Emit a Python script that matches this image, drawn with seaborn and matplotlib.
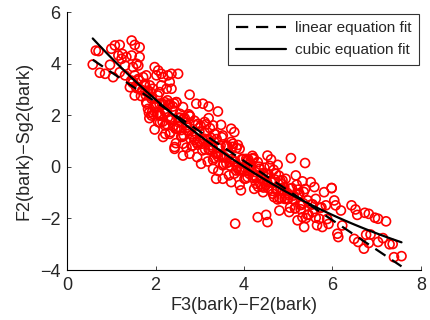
import numpy as np
import pandas as pd
import seaborn as sns
import matplotlib.pyplot as plt

# F3-F2 (bark) vs F2-Sg2 (bark)
f3_f2 = [
    0.65, 0.71, 0.58, 0.74, 0.86, 0.97, 1.04, 1.00, 1.08, 1.19, 1.16, 1.25, 1.23, 1.34, 1.31,
    1.19, 1.31, 1.46, 1.53, 1.64, 1.46, 1.64, 1.57, 1.49, 1.61, 1.53, 1.49, 1.61, 1.42, 1.53,
    1.64, 1.72, 1.79, 1.76, 1.87, 1.83, 1.94, 1.98, 2.06, 2.13, 2.02, 2.17, 2.28, 2.36, 2.32,
    2.13, 2.25, 2.09, 2.51, 1.79, 1.91, 1.83, 1.98, 2.09, 2.21, 2.32, 2.47, 1.91, 2.09, 2.25,
    2.39, 2.06, 2.21, 2.36, 2.51, 2.17, 2.32, 2.43,
    2.77, 2.92, 3.07, 3.20, 3.41, 3.20, 2.62, 2.47, 2.36, 2.55, 2.77, 2.96, 3.11, 3.30, 3.48,
    3.33, 3.52, 3.71, 3.78, 2.73, 2.92, 3.11, 2.62, 2.84, 2.43, 2.62, 2.77, 3.03, 3.22, 3.41,
    3.60, 3.75, 3.90, 4.05, 4.20, 3.30, 3.37, 3.52, 3.71, 3.82, 3.93, 4.01, 4.12, 4.23, 3.52,
    3.67, 3.80,
    4.20, 4.53, 4.61, 4.76, 5.06, 5.38, 5.17, 5.32, 5.51, 5.59, 5.81, 5.98, 4.35, 4.50, 4.72,
    4.87, 4.27, 4.43, 4.65, 4.84, 5.02, 5.25, 5.44, 5.62, 5.85, 4.80, 5.02, 4.31, 4.50, 4.53,
    5.21, 5.32, 5.36, 5.55, 5.70, 5.77, 5.91,
    5.98, 6.04, 6.07, 6.19, 6.43, 6.52, 6.56, 6.73, 6.82, 6.96, 7.03, 7.21, 6.22, 6.11, 6.13,
    6.49, 6.58, 6.71, 6.76, 6.86, 6.82, 7.03, 7.14, 7.29, 7.36, 7.39, 7.56,
    1.45, 1.55, 1.62, 1.70, 1.78, 1.85, 1.92, 2.00, 2.05, 2.12, 2.18, 2.24, 2.30, 2.35, 2.42,
    2.48, 2.55, 2.60, 2.66, 2.72, 2.78, 2.85, 2.90, 2.96, 3.02, 3.08, 3.14, 3.20, 3.25, 3.32,
    3.38, 3.44, 3.50, 3.56, 3.62, 3.68, 3.74, 3.80, 3.86, 3.92, 3.98, 4.04, 4.10, 4.16, 4.22,
    4.28, 4.34, 4.40, 4.46, 4.52, 4.58, 4.64, 4.70, 4.76, 4.82, 4.88, 4.94, 5.00, 5.08, 5.15,
    5.22, 5.30, 5.38, 5.46, 5.55, 5.65, 5.75, 5.88,
    1.48, 1.58, 1.67, 1.74, 1.82, 1.88, 1.95, 2.03, 2.09, 2.15, 2.21, 2.27, 2.33, 2.39, 2.45,
    2.52, 2.58, 2.63, 2.69, 2.75, 2.82, 2.88, 2.93, 2.99, 3.05, 3.11, 3.17, 3.23, 3.29, 3.35,
    3.41, 3.47, 3.53, 3.59, 3.65, 3.71, 3.77, 3.83, 3.89, 3.95, 4.01, 4.07, 4.13, 4.19, 4.25,
    4.31, 4.37, 4.43, 4.49, 4.55, 4.61, 4.67, 4.73, 4.79, 4.85, 4.91, 4.97, 5.05, 5.12, 5.19,
    5.27, 5.35, 5.43, 5.52, 5.62, 5.72,
    1.80, 1.86, 1.92, 1.98, 2.04,
    2.10, 2.16, 2.22, 2.28, 2.34, 2.40, 2.46, 2.52, 2.58, 2.64, 2.70, 2.76, 2.82, 2.88, 2.94,
    3.00, 3.06, 3.12, 3.18, 3.24, 3.30, 3.36, 3.42, 3.48, 3.54, 3.60, 3.66, 3.72, 3.78, 3.84,
    3.90, 3.96, 4.02, 4.08, 4.14, 4.20, 4.26, 4.32, 4.38, 4.44, 4.50, 4.56, 4.62, 4.68, 4.74,
    4.80, 4.86, 4.92, 4.98, 5.04, 5.10, 5.16, 5.22, 5.28, 5.34, 5.40,
]
f2_sg2 = [
    4.51, 4.49, 3.97, 3.65, 3.61, 3.96, 3.48, 4.58, 4.71, 4.73, 4.32, 4.38, 4.19, 4.26, 3.93,
    3.67, 3.55, 4.90, 4.73, 4.64, 4.32, 4.26, 4.00, 3.87, 3.93, 3.55, 3.29, 3.41, 3.09, 2.77,
    3.03, 3.48, 3.55, 3.22, 3.16, 2.96, 3.03, 3.87, 3.74, 3.61, 3.55, 3.48, 3.55, 3.61, 3.29,
    3.16, 3.03, 2.90, 3.61, 2.51, 2.64, 2.25, 2.32, 2.45, 2.51, 2.45, 2.51, 1.99, 2.06, 2.12,
    2.19, 1.74, 1.61, 1.86, 1.74, 1.16, 1.28, 0.77,
    2.80, 2.45, 2.45, 2.34, 2.15, 1.89, 2.32, 2.51, 3.03, 2.06, 1.99, 1.67, 1.74, 1.61, 1.63,
    1.28, 1.22, 1.48, 1.35, 1.41, 1.28, 1.09, 0.90, 0.83, 0.70, 0.44, 0.51, 0.12, 0.64, 0.51,
    0.83, 0.90, 0.70, 0.31, 0.31, -0.07, -0.46, -0.46, -0.59, -0.14, -0.91, -0.46, -0.27, -0.85, 0.06,
    0.19, -2.20,
    0.34, 0.44, 0.29, 0.08, 0.34, 0.15, -0.33, -0.56, -0.59, -0.78, -0.98, -0.82, -0.07, -0.40, -0.27,
    -0.52, -0.65, -0.98, -1.04, -0.85, -1.10, -1.04, -1.30, -1.24, -1.49, -1.69, -1.75, -1.95, -1.86, -2.14,
    -2.07, -1.95, -2.33, -1.75, -2.01, -2.33, -2.21,
    -0.82, -1.30, -1.49, -1.69, -1.49, -1.65, -1.86, -1.78, -1.82, -1.97, -2.01, -2.11, -2.27, -2.59, -2.72,
    -2.79, -2.91, -3.17, -2.63, -2.62, -2.95, -2.91, -2.76, -3.00, -2.99, -3.50, -3.46,
    3.35, 3.13, 3.36, 2.97, 2.78, 2.10, 2.72, 2.33, 2.77, 2.00, 2.43, 1.66, 2.39, 1.84, 2.46,
    1.49, 1.91, 1.16, 1.89, 1.52, 1.96, 1.18, 1.62, 0.86, 1.59, 1.02, 1.65, 0.69, 1.13, 0.35,
    1.08, 0.72, 1.15, 0.38, 0.82, 0.05, 0.78, 0.21, 0.85, -0.12, 0.31, -0.45, 0.28, -0.09, 0.34,
    -0.42, 0.01, -0.76, -0.03, -0.59, 0.04, -0.93, -0.49, -1.26, -0.53, -0.90, -0.46, -1.23, -0.82, -1.60,
    -0.88, -1.47, -0.86, -1.85, -1.45, -2.26, -1.57, -2.02,
    3.26, 3.05, 2.75, 3.17, 2.88, 2.91, 2.04, 2.45, 1.98, 2.41, 2.15, 2.58, 1.81, 2.34, 1.48,
    1.90, 1.43, 1.87, 1.61, 2.04, 1.26, 1.79, 0.94, 1.37, 0.90, 1.34, 1.07, 1.50, 0.74, 1.27,
    0.40, 0.83, 0.37, 0.80, 0.53, 0.97, 0.20, 0.73, -0.14, 0.30, -0.17, 0.26, -0.01, 0.43, -0.34,
    0.19, -0.67, -0.24, -0.71, -0.28, -0.54, -0.11, -0.88, -0.34, -1.21, -0.78, -1.25, -0.84, -1.11, -0.69,
    -1.48, -0.97, -1.86, -1.46, -1.97, -1.59,
    2.45, 1.89, 2.12, 1.45, 2.09,
    1.72, 1.75, 1.28, 1.92, 1.35, 1.58, 0.92, 1.55, 1.18, 1.21, 0.75, 1.38, 0.81, 1.04, 0.38,
    1.01, 0.64, 0.68, 0.21, 0.84, 0.27, 0.51, -0.16, 0.47, 0.11, 0.14, -0.33, 0.30, -0.26, -0.03,
    -0.70, -0.07, -0.03, -0.40, 0.13, -0.43, -0.20, -0.77, -0.44, -0.80, -0.27, -0.84, -0.60, -1.17, -0.84,
    -1.21, -0.67, -1.24, -1.01, -1.58, -1.24, -1.61, -1.08, -1.64, -1.41, -1.98,
]

df = pd.DataFrame({'x': f3_f2, 'y': f2_sg2})

sns.set_style('white')
plt.rcParams['font.family'] = ['Liberation Sans', 'DejaVu Sans']

fig = plt.figure(figsize=(4.3, 3.2), dpi=100)
ax = fig.add_axes([0.156, 0.156, 0.823, 0.806])

sns.scatterplot(data=df, x='x', y='y', ax=ax, marker='o', s=42,
                facecolors='none', edgecolor='red', linewidth=1.2, zorder=2)
sns.regplot(data=df, x='x', y='y', ax=ax, order=1, scatter=False, ci=None,
            line_kws={'color': 'black', 'lw': 1.6, 'ls': (0, (5.5, 3.5)), 'zorder': 3},
            label='linear equation fit')
sns.regplot(data=df, x='x', y='y', ax=ax, order=3, scatter=False, ci=None,
            line_kws={'color': 'black', 'lw': 1.6, 'zorder': 3},
            label='cubic equation fit')

ax.set_xlim(0, 8)
ax.set_ylim(-4, 6)
ax.set_xticks([0, 2, 4, 6, 8])
ax.set_yticks([-4, -2, 0, 2, 4, 6])
ax.set_xlabel('F3(bark)\u2212F2(bark)', fontsize=13, labelpad=2)
ax.set_ylabel('F2(bark)\u2212Sg2(bark)', fontsize=13, labelpad=5)
ax.tick_params(direction='in', length=3, width=0.6, labelsize=13,
               bottom=True, left=True, top=False, right=False)
ax.tick_params(axis='x', pad=5)
ax.tick_params(axis='y', pad=5)
ax.spines['top'].set_visible(False)
ax.spines['right'].set_visible(False)
for side in ['left', 'bottom']:
    ax.spines[side].set_color('black')
    ax.spines[side].set_linewidth(0.8)

leg = ax.legend(loc='upper right', fontsize=11, frameon=True, fancybox=False,
                handlelength=3.3, handletextpad=0.6, borderpad=0.5,
                labelspacing=0.5, borderaxespad=0.1)
leg.get_frame().set_edgecolor('black')
leg.get_frame().set_linewidth(0.8)

fig.savefig('out.png', dpi=100)
